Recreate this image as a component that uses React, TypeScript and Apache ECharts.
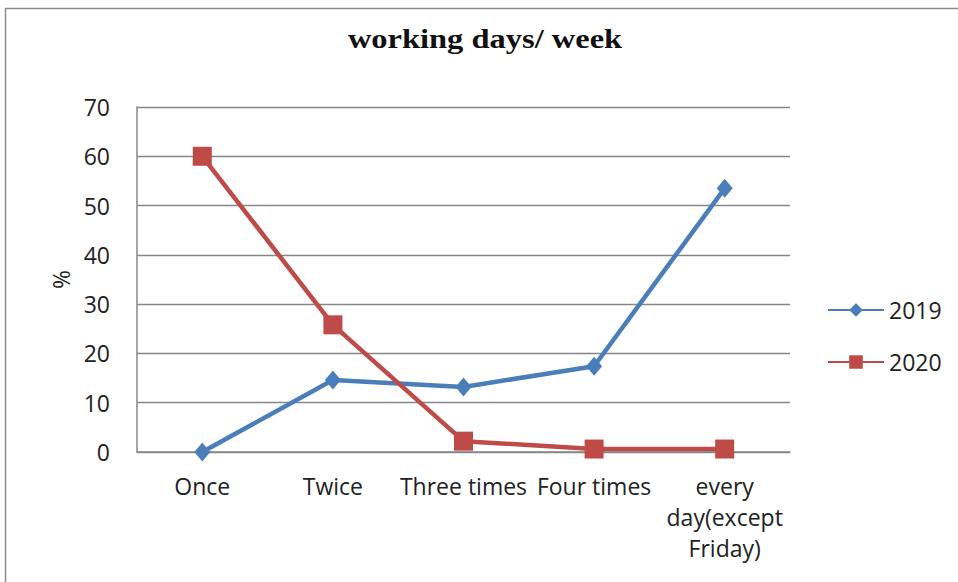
import React, { useEffect, useRef } from "react";
import * as echarts from "echarts";

const categories = ["Once", "Twice", "Three times", "Four times", "every\nday(except\nFriday)"];
const values2019 = [0, 14.6, 13.2, 17.4, 53.5];
const values2020 = [60, 25.8, 2.2, 0.6, 0.6];
const yTicks = { min: 0, max: 70, interval: 10 };
const titleText = "working days/ week";

export default function App() {
  const ref = useRef<HTMLDivElement>(null);
  useEffect(() => {
    const chart = echarts.init(ref.current!, null, { renderer: "svg" });
    const labelFont = "'Open Sans', 'Liberation Sans', sans-serif";
    chart.setOption({
      animation: false,
      backgroundColor: "#ffffff",
      graphic: [
        {
          type: "rect",
          shape: { x: 5.5, y: 8.5, width: 960, height: 580 },
          style: { fill: "none", stroke: "#8c8c8c", lineWidth: 1.5 },
          silent: true,
        },
        {
          type: "text",
          x: 485,
          y: 39,
          scaleX: 1.16,
          style: {
            text: titleText,
            font: "bold 28px 'Liberation Serif', serif",
            fill: "#111",
            textAlign: "center",
            textVerticalAlign: "middle",
          },
          silent: true,
        },
      ],
      legend: {
        orient: "vertical",
        left: 822,
        top: 293,
        itemWidth: 56,
        itemHeight: 17,
        itemGap: 28,
        textStyle: { fontFamily: labelFont, fontSize: 23, lineHeight: 24, color: "#222" },
        data: ["2019", "2020"],
      },
      grid: { left: 137, right: 168, top: 107, bottom: 130, containLabel: false },
      xAxis: {
        type: "category",
        data: categories,
        boundaryGap: true,
        axisLine: { lineStyle: { color: "#868686", width: 1.5 } },
        axisTick: { show: false },
        axisLabel: {
          interval: 0,
          margin: 18,
          fontFamily: labelFont,
          fontSize: 23,
          lineHeight: 31,
          color: "#222",
        },
      },
      yAxis: {
        type: "value",
        min: yTicks.min,
        max: yTicks.max,
        interval: yTicks.interval,
        name: "%",
        nameLocation: "middle",
        nameGap: 63,
        nameRotate: 90,
        nameTextStyle: { fontFamily: labelFont, fontSize: 23, color: "#222" },
        axisLine: { show: true, lineStyle: { color: "#868686", width: 1.5 } },
        axisTick: { show: false },
        splitLine: { lineStyle: { color: "#868686", width: 1.3 } },
        axisLabel: { fontFamily: labelFont, fontSize: 23, color: "#222", margin: 27 },
      },
      series: [
        {
          name: "2019",
          type: "line",
          data: values2019,
          color: "#4a7ebb",
          lineStyle: { width: 4.5, color: "#4a7ebb" },
          symbol: "diamond",
          symbolSize: [16, 19],
          itemStyle: { color: "#4a7ebb" },
        },
        {
          name: "2020",
          type: "line",
          data: values2020,
          color: "#be4b48",
          lineStyle: { width: 4.5, color: "#be4b48" },
          symbol: "rect",
          symbolSize: 19,
          itemStyle: { color: "#be4b48" },
        },
      ],
    });
    return () => chart.dispose();
  }, []);
  return <div ref={ref} style={{ width: 958, height: 582, position: "absolute", left: 0, top: 0 }} />;
}
